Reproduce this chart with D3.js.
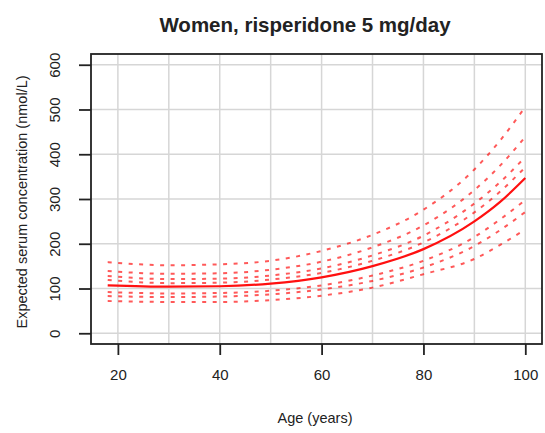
<!DOCTYPE html>
<html>
<head>
<meta charset="utf-8">
<script src="https://cdn.jsdelivr.net/npm/d3@7"></script>
<style>
  body { margin: 0; background: #fff; }
  text { font-family: "Liberation Sans", Arial, sans-serif; fill: #222; }
</style>
</head>
<body>
<svg id="chart"></svg>
<script>
// chart size
const width = 545;
const height = 433;

// ages where the curves were read
const ages = [18, 30, 40, 50, 60, 70, 80, 90, 95, 100];

// expected concentration (solid line)
const expected = [107, 104, 105, 111, 125, 150, 188, 250, 293, 347];

// individual curves (dotted lines)
const dotted = [
    [159, 152, 154, 162, 184, 220, 276, 366, 430, 506],
    [139, 133, 134, 142, 160, 192, 241, 320, 374, 439],
    [128, 121, 122, 129, 145, 174, 218, 290, 337, 394],
    [119, 112, 113, 120, 135, 162, 203, 270, 316, 371],
    [92, 89, 90, 95, 107, 129, 162, 215, 254, 298],
    [83, 81, 82, 87, 98, 117, 147, 195, 230, 271],
    [72, 70, 70, 74, 84, 102, 132, 166, 197, 232]
];

const xTicks = [20, 40, 60, 80, 100];
const xGrid = [20, 30, 40, 50, 60, 70, 80, 90, 100];
const yTicks = [0, 100, 200, 300, 400, 500, 600];

const svg = d3.select("#chart")
    .attr("width", width)
    .attr("height", height);

// plot box
const boxL = 91, boxR = 542, boxT = 54, boxB = 344;

const x = d3.scaleLinear().domain([14.72, 103.28]).range([boxL, boxR]);
const y = d3.scaleLinear().domain([-24, 624]).range([boxB, boxT]);

// grid
svg.selectAll(".vgrid")
    .data(xGrid)
    .enter()
    .append("line")
    .attr("x1", d => x(d)).attr("x2", d => x(d))
    .attr("y1", boxT).attr("y2", boxB)
    .attr("stroke", "#d6d6d6")
    .attr("stroke-width", 1.5);

svg.selectAll(".hgrid")
    .data(yTicks)
    .enter()
    .append("line")
    .attr("x1", boxL).attr("x2", boxR)
    .attr("y1", d => y(d)).attr("y2", d => y(d))
    .attr("stroke", "#d6d6d6")
    .attr("stroke-width", 1.5);

// lines
const line = d3.line()
    .x((d, i) => x(ages[i]))
    .y(d => y(d))
    .curve(d3.curveMonotoneX);

svg.selectAll(".dotted")
    .data(dotted)
    .enter()
    .append("path")
    .attr("d", line)
    .attr("fill", "none")
    .attr("stroke", "rgba(255, 0, 0, 0.65)")
    .attr("stroke-width", 2)
    .attr("stroke-dasharray", "4,6.5");

svg.append("path")
    .attr("d", line(expected))
    .attr("fill", "none")
    .attr("stroke", "#ff1010")
    .attr("stroke-width", 2.2);

// box
svg.append("rect")
    .attr("x", boxL).attr("y", boxT)
    .attr("width", boxR - boxL).attr("height", boxB - boxT)
    .attr("fill", "none")
    .attr("stroke", "#222")
    .attr("stroke-width", 1.8);

// axes
const xAxis = d3.axisBottom(x)
    .tickValues(xTicks)
    .tickSize(11)
    .tickPadding(14);

const gx = svg.append("g")
    .attr("transform", `translate(0,${boxB})`)
    .call(xAxis);
gx.select(".domain").remove();
gx.selectAll("line").attr("stroke", "#222").attr("stroke-width", 1.8);
gx.selectAll("text").style("font-size", "15px").attr("fill", "#222");

const yAxis = d3.axisLeft(y)
    .tickValues(yTicks)
    .tickSize(12);

const gy = svg.append("g")
    .attr("transform", `translate(${boxL},0)`)
    .call(yAxis);
gy.select(".domain").remove();
gy.selectAll("line").attr("stroke", "#222").attr("stroke-width", 1.8);
gy.selectAll("text")
    .style("font-size", "15px")
    .attr("fill", "#222")
    .attr("x", 0).attr("y", 0).attr("dy", 0)
    .attr("text-anchor", "middle")
    .attr("transform", `translate(${60 - boxL},0) rotate(-90)`);

// titles
svg.append("text")
    .attr("x", 305).attr("y", 32)
    .attr("text-anchor", "middle")
    .style("font-size", "20.5px")
    .style("font-weight", "bold")
    .text("Women, risperidone 5 mg/day");

svg.append("text")
    .attr("x", 315).attr("y", 423)
    .attr("text-anchor", "middle")
    .style("font-size", "14.5px")
    .text("Age (years)");

svg.append("text")
    .attr("transform", "translate(27,202) rotate(-90)")
    .attr("text-anchor", "middle")
    .style("font-size", "14.5px")
    .text("Expected serum concentration (nmol/L)");
</script>
</body>
</html>
